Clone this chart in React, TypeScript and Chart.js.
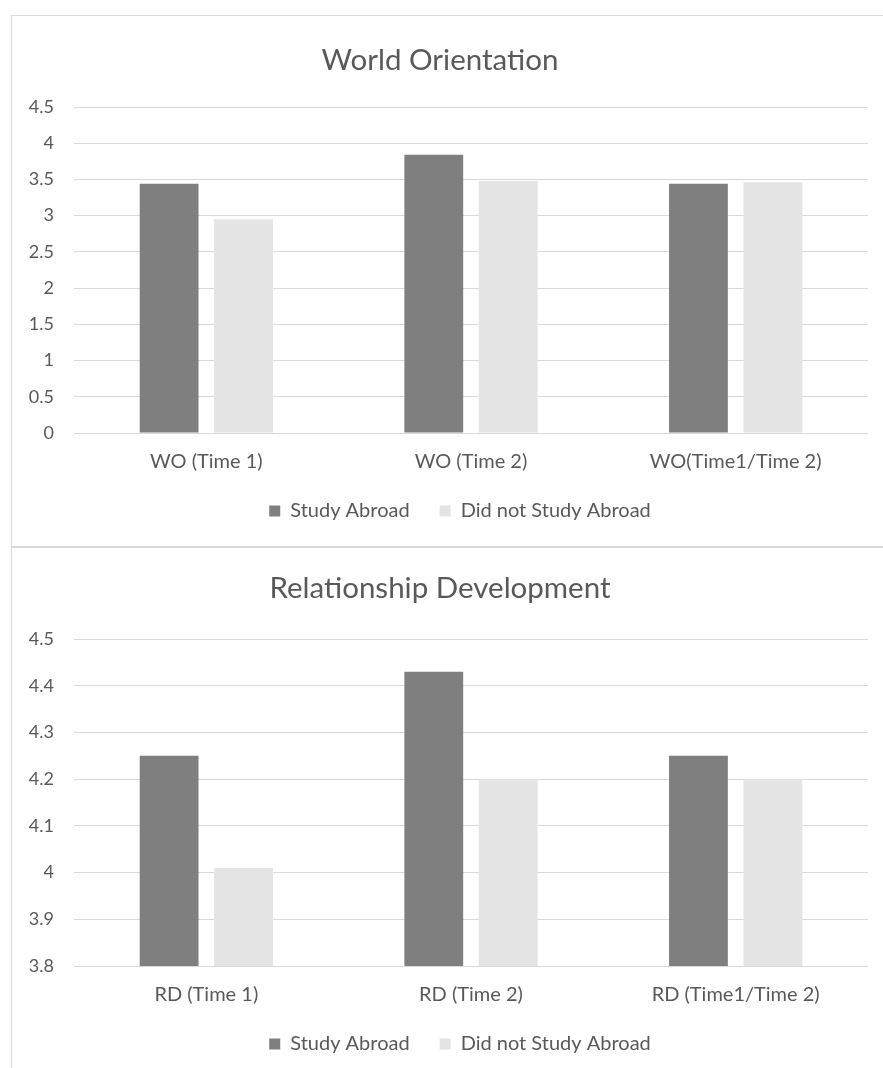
import React, { useEffect, useRef } from "react";
import { Chart, registerables } from "chart.js";

Chart.register(...registerables);

// World Orientation panel
const WO_CATEGORIES = ["WO (Time 1)", "WO (Time 2)", "WO(Time1/Time 2)"];
const WO_STUDY_ABROAD = [3.44, 3.84, 3.44];
const WO_NO_STUDY_ABROAD = [2.95, 3.48, 3.46];
const WO_AXIS_MIN = 0;
const WO_AXIS_MAX = 4.5;
const WO_AXIS_STEP = 0.5;

// Relationship Development panel
const RD_CATEGORIES = ["RD (Time 1)", "RD (Time 2)", "RD (Time1/Time 2)"];
const RD_STUDY_ABROAD = [4.25, 4.43, 4.25];
const RD_NO_STUDY_ABROAD = [4.01, 4.2, 4.2];
const RD_AXIS_MIN = 3.8;
const RD_AXIS_MAX = 4.5;
const RD_AXIS_STEP = 0.1;

const SERIES_NAMES = ["Study Abroad", "Did not Study Abroad"];

const FONT = "Lato, 'Liberation Sans', sans-serif";
const TEXT = "#595959";
const GRID = "#d9d9d9";
const DARK = "#7f7f7f";
const LIGHT = "#e4e4e4";
const TITLE_SIZE = 29.5;

// Nudges the legend row sideways without touching the plot area.
const legendShift = {
  id: "legendShift",
  afterLayout(chart: any, _args: any, opts: any) {
    const lg = chart.legend;
    if (!lg) return;
    const dx = opts.dx || 0;
    lg.left += dx;
    lg.right += dx;
    if (lg.legendHitBoxes) {
      lg.legendHitBoxes.forEach((b: any) => {
        b.left += dx;
      });
    }
  },
};

type PanelProps = {
  title: string;
  categories: string[];
  abroad: number[];
  home: number[];
  min: number;
  max: number;
  step: number;
  titleTop: number;
  width: number;
  height: number;
};

function Panel(props: PanelProps) {
  const ref = useRef<HTMLCanvasElement | null>(null);
  useEffect(() => {
    if (!ref.current) return;
    const chart = new Chart(ref.current, {
      type: "bar",
      data: {
        labels: props.categories,
        datasets: [
          {
            label: SERIES_NAMES[0],
            data: props.abroad,
            backgroundColor: DARK,
            barPercentage: 0.79,
            categoryPercentage: 0.5625,
          },
          {
            label: SERIES_NAMES[1],
            data: props.home,
            backgroundColor: LIGHT,
            barPercentage: 0.79,
            categoryPercentage: 0.5625,
          },
        ],
      },
      plugins: [legendShift],
      options: {
        responsive: false,
        animation: false,
        devicePixelRatio: 1,
        layout: { padding: { left: 0, right: 16, top: 0, bottom: 0 } },
        plugins: {
          title: {
            display: true,
            text: props.title,
            color: TEXT,
            font: { family: FONT, size: TITLE_SIZE, weight: "normal" },
            padding: { top: props.titleTop, bottom: 91 - props.titleTop - TITLE_SIZE * 1.2 },
          },
          legend: {
            position: "bottom",
            labels: {
              color: TEXT,
              font: { family: FONT, size: 20 },
              boxWidth: 11,
              boxHeight: 11,
              padding: 30,
            },
          },
          legendShift: { dx: 20 },
          tooltip: { enabled: false },
        } as any,
        scales: {
          x: {
            grid: { display: false },
            border: { display: false },
            ticks: { color: TEXT, font: { family: FONT, size: 20 }, padding: 9, maxRotation: 0 },
            afterFit: (s: any) => {
              s.height = 38;
            },
          },
          y: {
            min: props.min,
            max: props.max,
            ticks: {
              stepSize: props.step,
              color: TEXT,
              font: { family: FONT, size: 18 },
              padding: 20,
              callback: (v: any) => String(Number(Number(v).toFixed(1))),
            },
            grid: { color: GRID, lineWidth: 1, drawTicks: false },
            border: { display: false },
            afterFit: (s: any) => {
              s.width = 62;
            },
          },
        },
      },
    });
    return () => chart.destroy();
  }, []);
  return (
    <canvas
      ref={ref}
      width={props.width}
      height={props.height}
      style={{ display: "block", width: props.width, height: props.height }}
    />
  );
}

export default function App() {
  const box: React.CSSProperties = {
    position: "absolute",
    left: 11,
    width: 880,
    border: "1px solid #d9d9d9",
    background: "#fff",
    boxSizing: "border-box",
  };
  return (
    <div
      style={{
        position: "absolute",
        left: 0,
        top: 0,
        width: 883,
        height: 1068,
        overflow: "hidden",
        background: "#fff",
      }}
    >
      <div style={{ ...box, top: 15, height: 532 }}>
        <Panel
          title="World Orientation"
          categories={WO_CATEGORIES}
          abroad={WO_STUDY_ABROAD}
          home={WO_NO_STUDY_ABROAD}
          min={WO_AXIS_MIN}
          max={WO_AXIS_MAX}
          step={WO_AXIS_STEP}
          titleTop={27}
          width={872}
          height={515}
        />
      </div>
      <div style={{ ...box, top: 547, height: 540 }}>
        <Panel
          title="Relationship Development"
          categories={RD_CATEGORIES}
          abroad={RD_STUDY_ABROAD}
          home={RD_NO_STUDY_ABROAD}
          min={RD_AXIS_MIN}
          max={RD_AXIS_MAX}
          step={RD_AXIS_STEP}
          titleTop={23}
          width={872}
          height={516}
        />
      </div>
    </div>
  );
}
